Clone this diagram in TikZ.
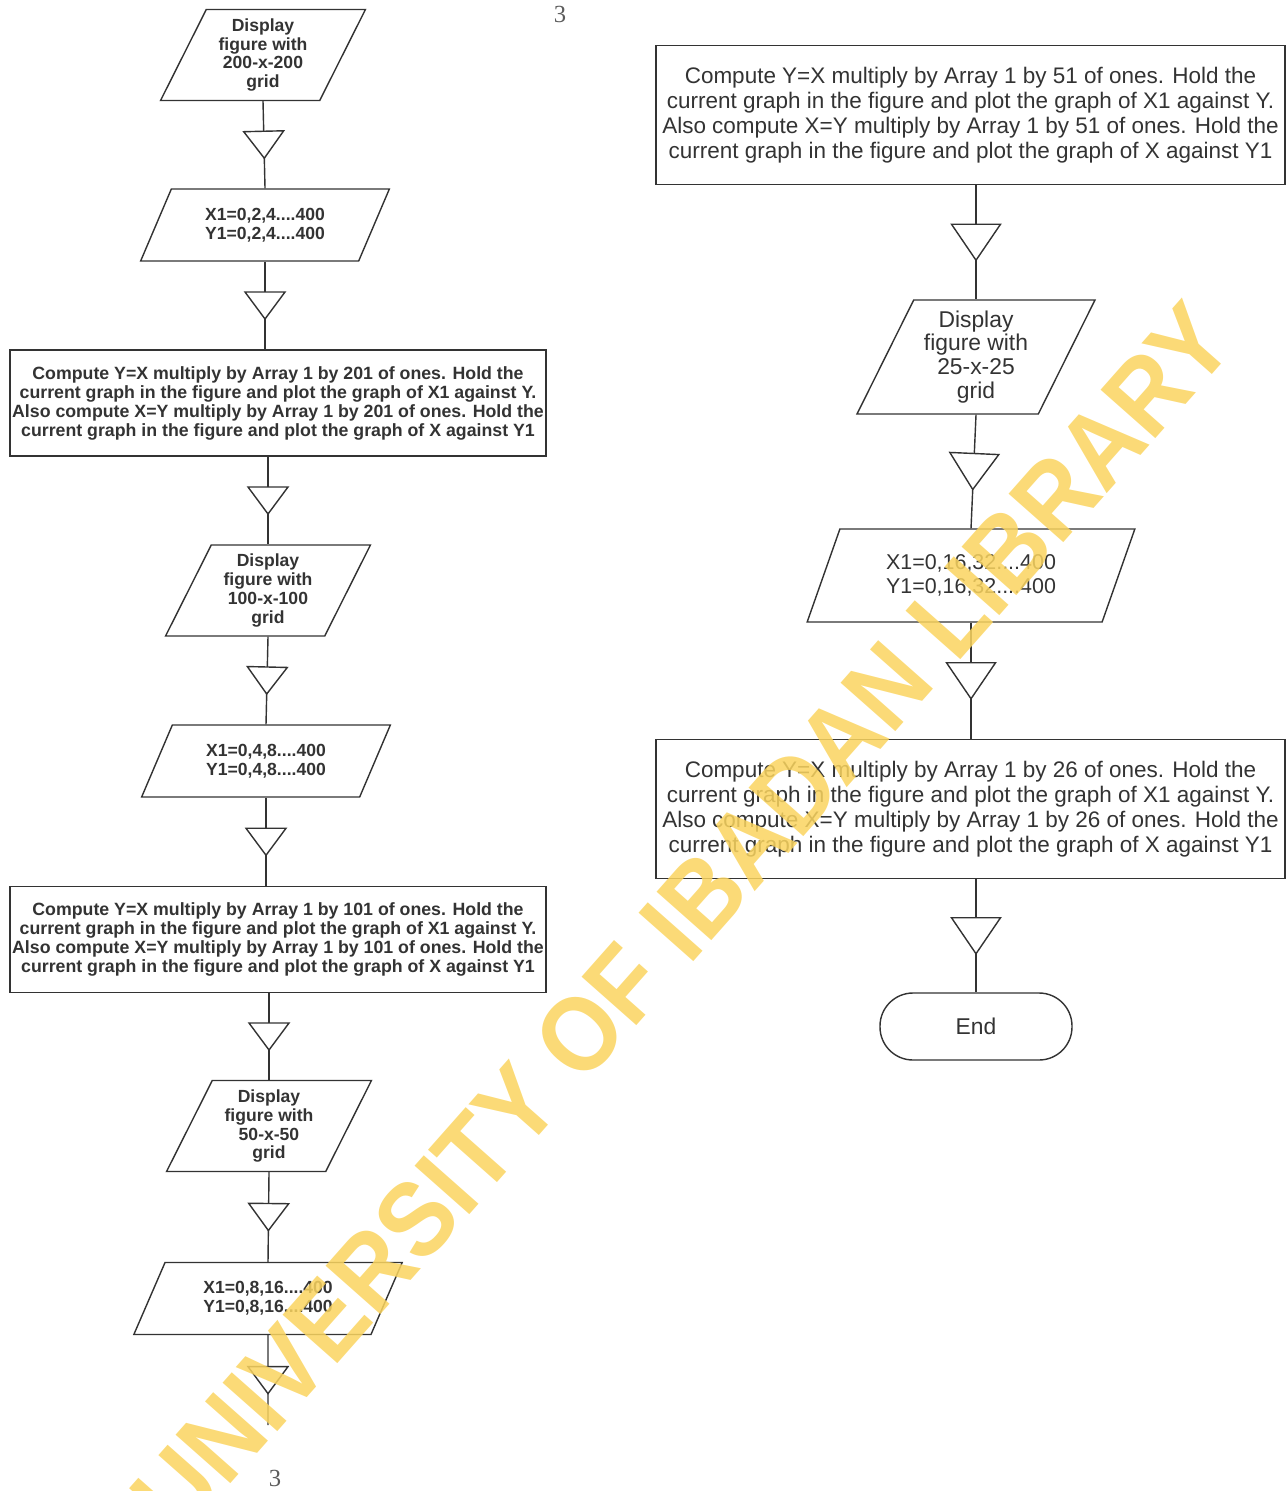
\documentclass[tikz,border=0pt]{standalone}
\usepackage{fontspec}
\setmainfont{Liberation Sans}
\newfontfamily\pagefont{Liberation Serif}
\usepackage{graphicx}
\usepackage{xcolor}
\usepackage{tikz}
\usetikzlibrary{shapes.geometric, positioning, decorations.markings}

\newlength{\unitpx}
\setlength{\unitpx}{0.02cm}

\definecolor{ink}{HTML}{333333}
\definecolor{wmyellow}{RGB}{250,212,95}

\tikzset{
  box/.style={draw=ink, inner sep=0pt, align=center, text=ink},
  computeL/.style={box, rectangle, minimum width=536\unitpx, minimum height=106\unitpx,
    font=\fontsize{10.1}{10.8}\selectfont\bfseries},
  computeR/.style={box, rectangle, minimum width=629\unitpx, minimum height=139\unitpx,
    font=\fontsize{12.8}{14.2}\selectfont},
  io/.style={box, trapezium, trapezium stretches=true},
  dispL/.style={io, trapezium left angle=64, trapezium right angle=116,
    minimum width=206\unitpx, minimum height=91\unitpx, font=\fontsize{10}{10.8}\selectfont\bfseries},
  rangeL/.style={io, trapezium left angle=60, trapezium right angle=120,
    minimum width=250\unitpx, minimum height=72\unitpx, font=\fontsize{10}{10.8}\selectfont\bfseries},
  dispR/.style={io, trapezium left angle=63, trapezium right angle=117,
    minimum width=238\unitpx, minimum height=114\unitpx, font=\fontsize{13}{13.6}\selectfont},
  rangeR/.style={io, trapezium left angle=63, trapezium right angle=117,
    minimum width=328\unitpx, minimum height=93\unitpx, font=\fontsize{12.2}{13.6}\selectfont},
  terminal/.style={box, rectangle, rounded corners=33\unitpx,
    minimum width=192\unitpx, minimum height=67\unitpx, font=\fontsize{13}{14}\selectfont},
  flowl/.style={decoration={markings, mark=at position 0.5 with
    {\draw[fill=white] (-13.5\unitpx,20\unitpx) -- (-13.5\unitpx,-20\unitpx) -- (13.5\unitpx,0pt) -- cycle;}},
    postaction={decorate}},
  flowr/.style={decoration={markings, mark=at position 0.5 with
    {\draw[fill=white] (-18\unitpx,24.5\unitpx) -- (-18\unitpx,-24.5\unitpx) -- (18\unitpx,0pt) -- cycle;}},
    postaction={decorate}},
  pagenum/.style={inner sep=0pt, text=ink!80, font=\pagefont\fontsize{14}{14}\selectfont},
  watermark/.style={inner sep=0pt, text=wmyellow, opacity=0.85, rotate=48.5,
    font=\fontsize{55}{60}\selectfont\bfseries}
}

\begin{document}
\begin{tikzpicture}[x=0.02cm, y=-0.02cm, line width=0.8pt, color=ink]
  \useasboundingbox (0,0) rectangle (1287,1491);

  % Left column
  \node[dispL] (disp200) at (263,55) {Display\\figure with\\200-x-200\\grid};
  \node[rangeL] (range2) at (265,225) {X1=0,2,4....400\\Y1=0,2,4....400};
  \node[computeL] (comp201) at (278,403) {Compute Y=X multiply by Array 1 by 201 of ones. Hold the\\current graph in the figure and plot the graph of X1 against Y.\\Also compute X=Y multiply by Array 1 by 201 of ones. Hold the\\current graph in the figure and plot the graph of X against Y1};
  \node[dispL] (disp100) at (268,590.5) {Display\\figure with\\100-x-100\\grid};
  \node[rangeL] (range4) at (266,761) {X1=0,4,8....400\\Y1=0,4,8....400};
  \node[computeL] (comp101) at (278,939.5) {Compute Y=X multiply by Array 1 by 101 of ones. Hold the\\current graph in the figure and plot the graph of X1 against Y.\\Also compute X=Y multiply by Array 1 by 101 of ones. Hold the\\current graph in the figure and plot the graph of X against Y1};
  \node[dispL] (disp50) at (269,1126) {Display\\figure with\\50-x-50\\grid};
  \node[rangeL, minimum width=269\unitpx] (range8) at (268,1298.5) {X1=0,8,16....400\\Y1=0,8,16....400};
  \coordinate (leftout) at (268,1425);

  % Right column
  \node[computeR] (comp51) at (970.5,115) {Compute Y=X multiply by Array 1 by 51 of ones. Hold the\\current graph in the figure and plot the graph of X1 against Y.\\Also compute X=Y multiply by Array 1 by 51 of ones. Hold the\\current graph in the figure and plot the graph of X against Y1};
  \node[dispR] (disp25) at (976,357) {Display\\figure with\\25-x-25\\grid};
  \node[rangeR] (range16) at (971,575.5) {X1=0,16,32....400\\Y1=0,16,32....400};
  \node[computeR] (comp26) at (970.5,809) {Compute Y=X multiply by Array 1 by 26 of ones. Hold the\\current graph in the figure and plot the graph of X1 against Y.\\Also compute X=Y multiply by Array 1 by 26 of ones. Hold the\\current graph in the figure and plot the graph of X against Y1};
  \node[terminal] (endnode) at (976,1026.5) {End};

  % Flow lines
  \draw[flowl] (disp200.south) -- (range2.north);
  \draw[flowl] (range2.south) -- (range2.south |- comp201.north);
  \draw[flowl] (comp201.south -| disp100.north) -- (disp100.north);
  \draw[flowl] (disp100.south) -- (range4.north);
  \draw[flowl] (range4.south) -- (range4.south |- comp101.north);
  \draw[flowl] (comp101.south -| disp50.north) -- (disp50.north);
  \draw[flowl] (disp50.south) -- (range8.north);
  \draw[flowl] (range8.south) -- (leftout);
  \draw[flowr] (comp51.south -| disp25.north) -- (disp25.north);
  \draw[flowr] (disp25.south) -- (range16.north);
  \draw[flowr] (range16.south) -- (range16.south |- comp26.north);
  \draw[flowr] (comp26.south -| endnode.north) -- (endnode.north);

  % Page numbers
  \node[pagenum] (pagetop) at (560,14) {3};
  \node[pagenum] (pagebot) at (275,1478) {3};

  % Library stamp
  \node[watermark] (stamp) at (682,919) {\scalebox{1}[1.1]{UNIVERSITY OF IBADAN LIBRARY}};
\end{tikzpicture}
\end{document}
